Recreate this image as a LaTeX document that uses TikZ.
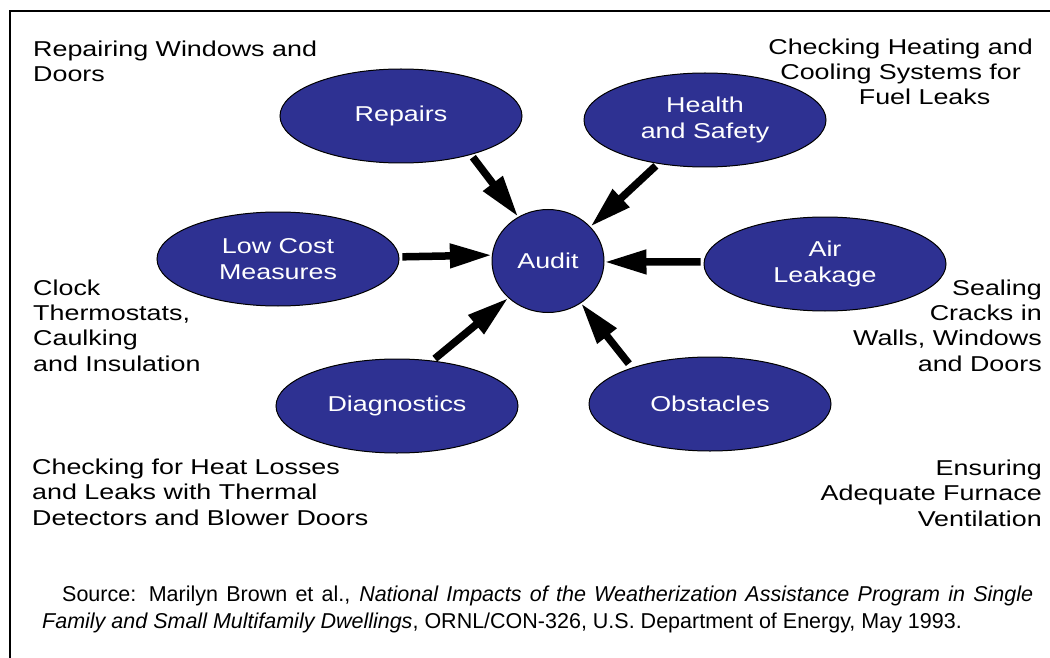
\documentclass[tikz,border=0pt]{standalone}
\usepackage{fontspec}
\setmainfont{Liberation Sans}
\newfontfamily\labelfont{Liberation Sans}[FakeStretch=1.25]
\usetikzlibrary{arrows.meta,shapes.geometric}
\definecolor{nodeblue}{RGB}{46,49,146}
\begin{document}
\begin{tikzpicture}[x=1pt,y=-1pt,
  lbl/.style={font=\labelfont\fontsize{21.5pt}{25.3pt}\selectfont},
  bubble/.style={lbl, ellipse, draw=black, line width=1pt, fill=nodeblue, text=white,
    minimum width=242pt, minimum height=94pt, inner sep=0pt, align=center},
  hub/.style={bubble, minimum width=112pt, minimum height=103pt},
  feed/.style={line width=7.5pt, -{Triangle[length=42pt,width=23pt]}, shorten <=3pt},
  note/.style={lbl, inner sep=0pt},
  src/.style={inner sep=0pt, font=\fontsize{21.5pt}{27pt}\selectfont},
  frame/.style={line width=2pt}
]
\useasboundingbox (0,0) rectangle (1050,658);
\coordinate (fl) at (10,11);
\coordinate (fr) at (1050,11);
\coordinate (fb) at (10,658);
\draw[frame] (fr) -- (fl) -- (fb);

\node[hub] (audit) at (548,261) {Audit};
\node[bubble] (repairs) at (401,116) {Repairs};
\node[bubble] (health) at (705,120) {Health\\and Safety};
\node[bubble] (lowcost) at (278,259) {Low Cost\\Measures};
\node[bubble] (air) at (825,264) {Air\\Leakage};
\node[bubble] (diag) at (397,406) {Diagnostics};
\node[bubble] (obst) at (710,404) {Obstacles};

\draw[feed] (repairs.-29.4) -- (audit.124.3);
\draw[feed] (lowcost.1.4) -- (audit.174.8);
\draw[feed] (health.-137.5) -- (audit.39.7);
\draw[feed] (air.179) -- (audit.-1);
\draw[feed] (diag.52) -- (audit.-137.4);
\draw[feed, shorten <=5pt] (obst.155.8) -- (audit.-52.7);

\node[note, anchor=base west, align=left] (t1) at (33,82) {Repairing Windows and\\Doors};
\node[note, anchor=base east, align=center] (t2) at (1033,105) {Checking Heating and\\Cooling Systems for\\\hspace*{48pt}Fuel Leaks};
\node[note, anchor=base west, align=left] (t3) at (33,371) {Clock\\Thermostats,\\Caulking\\and Insulation};
\node[note, anchor=base east, align=right] (t4) at (1042,371) {Sealing\\Cracks in\\Walls, Windows\\and Doors};
\node[note, anchor=base west, align=left] (t5) at (32,525) {Checking for Heat Losses\\and Leaks with Thermal\\Detectors and Blower Doors};
\node[note, anchor=base east, align=right] (t6) at (1042,526) {Ensuring\\Adequate Furnace\\Ventilation};

\node[src, anchor=base west] (s1) at (62,601) {\makebox[971pt][s]{Source: Marilyn Brown et al., \textit{National Impacts of the Weatherization Assistance Program in Single}}};
\node[src, anchor=base west] (s2) at (42,628) {\textit{Family and Small Multifamily Dwellings}, ORNL/CON-326, U.S. Department of Energy, May 1993.};
\end{tikzpicture}
\end{document}
